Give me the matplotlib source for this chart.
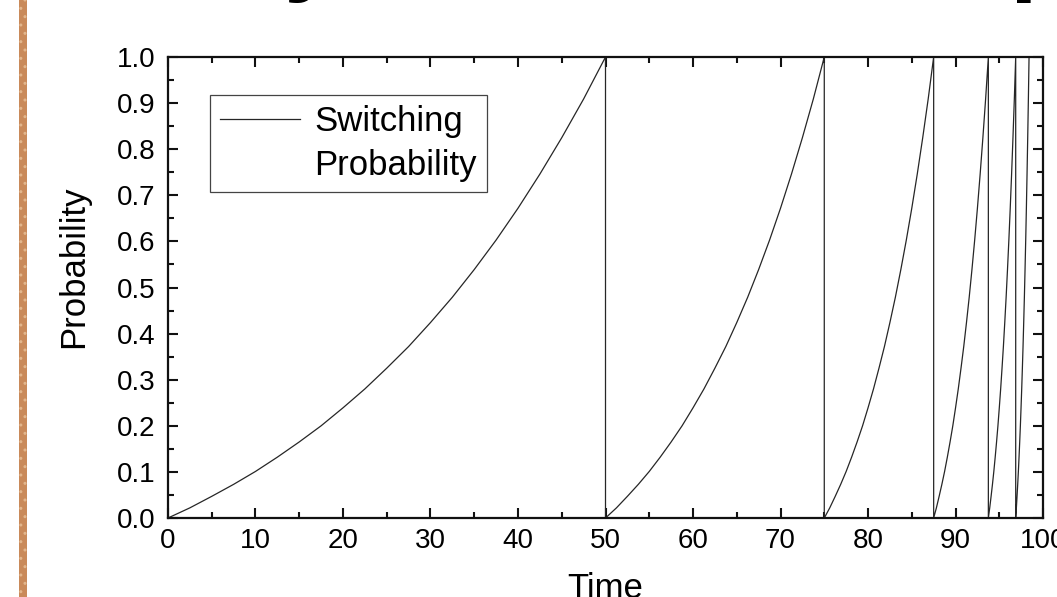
import matplotlib
matplotlib.use("Agg")
import matplotlib.pyplot as plt
from matplotlib.lines import Line2D
from matplotlib.patches import Rectangle
from matplotlib.ticker import MultipleLocator
import numpy as np

# shape of one charge-up ramp (fraction of the segment -> probability)
ramp_frac = [0.0, 0.05, 0.1, 0.15, 0.2, 0.25, 0.3, 0.35, 0.4, 0.45, 0.5,
             0.55, 0.6, 0.65, 0.7, 0.75, 0.8, 0.85, 0.9, 0.95, 1.0]
ramp_prob = [0.0, 0.022, 0.047, 0.073, 0.101, 0.132, 0.165, 0.200, 0.239, 0.280, 0.325,
             0.372, 0.424, 0.479, 0.539, 0.603, 0.672, 0.746, 0.825, 0.909, 1.0]

# where each ramp starts and where it reaches 1.0 (then drops back to 0)
seg_start = [0.0, 50.0, 75.0, 87.5, 93.75, 96.875]
seg_end = [50.0, 75.0, 87.5, 93.75, 96.875, 98.4]

x_ticks = [0, 10, 20, 30, 40, 50, 60, 70, 80, 90, 100]
y_ticks = [0.0, 0.1, 0.2, 0.3, 0.4, 0.5, 0.6, 0.7, 0.8, 0.9, 1.0]

plt.rcParams['font.family'] = ['Liberation Sans', 'DejaVu Sans']

fig = plt.figure(figsize=(10.57, 5.97), dpi=100)
ax = fig.add_axes([0.1589, 0.1323, 0.8279, 0.7722])

# build the sawtooth
t = []
p = []
for s, e in zip(seg_start, seg_end):
    for f, v in zip(ramp_frac, ramp_prob):
        t.append(s + f * (e - s))
        p.append(v)

line, = ax.plot(t, p, color='#262626', lw=0.9)

ax.set_xlim(0, 100)
ax.set_ylim(0, 1.0)
ax.set_xticks(x_ticks)
ax.set_yticks(y_ticks)
ax.set_yticklabels([f"{v:.1f}" for v in y_ticks])
ax.xaxis.set_minor_locator(MultipleLocator(5))
ax.yaxis.set_minor_locator(MultipleLocator(0.05))
ax.tick_params(which='both', direction='in', top=True, right=True, width=1.5, color='#111')
ax.tick_params(which='major', length=7.5, labelsize=20)
ax.tick_params(axis='y', which='major', pad=9)
ax.tick_params(axis='x', which='major', pad=7)
ax.tick_params(which='minor', length=4)
for sp in ax.spines.values():
    sp.set_linewidth(1.6)
    sp.set_color('#111')

ax.set_xlabel('Time', fontsize=25)
ax.set_ylabel('Probability', fontsize=25)
ax.xaxis.set_label_coords(0.5, -0.117)
ax.yaxis.set_label_coords(-0.089, 0.544)

# two-line legend entry, line sits next to the first line of text
blank = Line2D([], [], linestyle='none')
leg = ax.legend([line, blank], ['Switching', 'Probability'], loc='upper left',
                bbox_to_anchor=(0.048, 0.9176), borderaxespad=0, fontsize=25,
                handlelength=2.3, handletextpad=0.4, labelspacing=0.3,
                borderpad=0.3, fancybox=False, framealpha=1, edgecolor='#444')
leg.get_frame().set_linewidth(0.9)

# cropped slide title (only descenders visible) and the brown slide border
fig.text(0.268, 1.03, 'y', fontsize=72, fontweight='bold', va='baseline', ha='left')
fig.text(0.955, 1.03, 'p', fontsize=72, fontweight='bold', va='baseline', ha='left')
fig.add_artist(Rectangle((0.018, 0.0), 0.0075, 1.0, transform=fig.transFigure,
                         facecolor='#c98a5a', edgecolor='#e2b68c', hatch='..', lw=0))

fig.savefig('out.png', dpi=100)
